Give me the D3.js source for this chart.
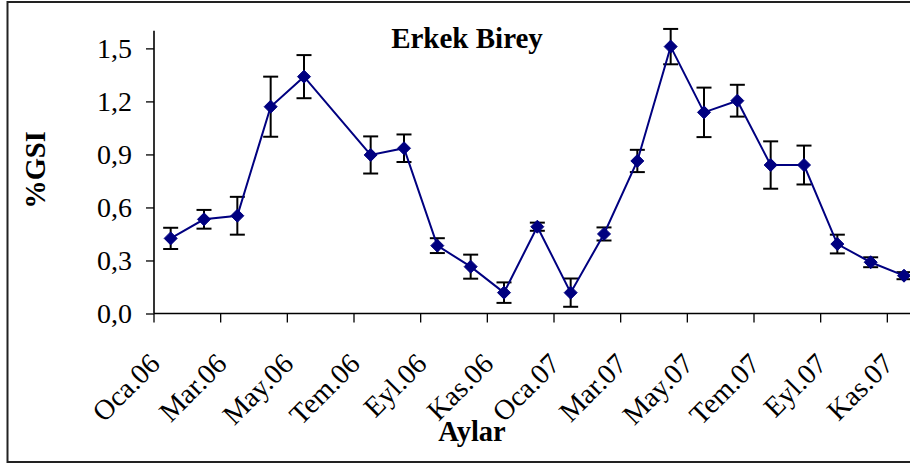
<!DOCTYPE html>
<html>
<head>
<meta charset="utf-8">
<script src="https://cdn.jsdelivr.net/npm/d3@7"></script>
<style>
  html, body { margin: 0; padding: 0; background: #fff; }
  svg { display: block; }
  text { font-family: "Liberation Serif", "Times New Roman", serif; fill: #000; }
</style>
</head>
<body>
<svg id="chart" width="910" height="465"></svg>
<script>
// ---- data ----
const months = ["Oca.06","Şub.06","Mar.06","Nis.06","May.06","Haz.06","Tem.06","Ağu.06","Eyl.06","Eki.06","Kas.06","Ara.06",
                "Oca.07","Şub.07","Mar.07","Nis.07","May.07","Haz.07","Tem.07","Ağu.07","Eyl.07","Eki.07","Kas.07","Ara.07"];
const gsi    = [0.425, 0.533, 0.553, 1.170, 1.340, null, 0.897, 0.935, 0.384, 0.265, 0.118, 0.491,
                0.118, 0.450, 0.863, 1.510, 1.138, 1.204, 0.840, 0.840, 0.393, 0.290, 0.214, null];
const gsiErr = [0.060, 0.053, 0.107, 0.170, 0.122, null, 0.105, 0.078, 0.042, 0.068, 0.058, 0.023,
                0.080, 0.037, 0.063, 0.100, 0.140, 0.090, 0.134, 0.110, 0.053, 0.028, 0.020, null];
const yTicks = [0, 0.3, 0.6, 0.9, 1.2, 1.5];
const labelMonths = ["Oca.06","Mar.06","May.06","Tem.06","Eyl.06","Kas.06","Oca.07","Mar.07","May.07","Tem.07","Eyl.07","Kas.07"];
const title = "Erkek Birey";
const xTitle = "Aylar";
const yTitle = "%GSI";

// ---- layout ----
const svg = d3.select("#chart");
const pLeft = 154, pRight = 954, pTop = 30.7, pBottom = 313.5;

const x = d3.scaleBand().domain(months).range([pLeft, pRight]).paddingInner(0).paddingOuter(0);
const xc = m => x(m) + x.bandwidth() / 2;
const y = d3.scaleLinear().domain([0, 1.6]).range([pBottom, pTop]);

// outer frame
svg.append("rect").attr("x", 7.5).attr("y", 2).attr("width", 940).attr("height", 460)
  .attr("fill", "none").attr("stroke", "#222").attr("stroke-width", 2);

// y axis
const yAxis = d3.axisLeft(y).tickValues(yTicks).tickSize(8).tickPadding(14)
  .tickFormat(d => d3.format(".1f")(d).replace(".", ","));
const gy = svg.append("g").attr("transform", `translate(${pLeft},0)`).call(yAxis);
gy.select(".domain").attr("stroke", "#000").attr("stroke-width", 1.6).attr("d", `M-0,${pTop}V${pBottom}`);
gy.selectAll(".tick line").attr("stroke", "#000").attr("stroke-width", 1.3);
gy.selectAll(".tick text").style("font-size", "28px").style("font-family", "Liberation Serif").attr("fill", "#000");

// x axis: tick marks every two months at slot boundaries
const tickIdx = d3.range(0, months.length + 1, 2);
const xb = i => pLeft + i * x.bandwidth();
const gx = svg.append("g");
gx.append("line").attr("x1", pLeft).attr("x2", 912).attr("y1", pBottom).attr("y2", pBottom)
  .attr("stroke", "#000").attr("stroke-width", 1.6);
gx.selectAll("line.tk").data(tickIdx).join("line").attr("class", "tk")
  .attr("x1", xb).attr("x2", xb).attr("y1", pBottom).attr("y2", pBottom + 9)
  .attr("stroke", "#000").attr("stroke-width", 1.3);
gx.selectAll("text.lbl").data(labelMonths).join("text").attr("class", "lbl")
  .attr("text-anchor", "end")
  .attr("transform", d => `translate(${xc(d) - 9},${pBottom + 52}) rotate(-45)`)
  .style("font-size", "28.5px")
  .text(d => d);

// data points (missing months skipped; line connects neighbours)
const pts = months.map((m, i) => ({ m, v: gsi[i], e: gsiErr[i] })).filter(d => d.v !== null);

// error bars
const eb = svg.append("g").attr("stroke", "#000").attr("stroke-width", 2);
pts.forEach(d => {
  const cx = xc(d.m);
  eb.append("line").attr("x1", cx).attr("x2", cx).attr("y1", y(d.v + d.e)).attr("y2", y(d.v - d.e));
  eb.append("line").attr("x1", cx - 7.5).attr("x2", cx + 7.5).attr("y1", y(d.v + d.e)).attr("y2", y(d.v + d.e));
  eb.append("line").attr("x1", cx - 7.5).attr("x2", cx + 7.5).attr("y1", y(d.v - d.e)).attr("y2", y(d.v - d.e));
});

// line
svg.append("path").datum(pts)
  .attr("d", d3.line().x(d => xc(d.m)).y(d => y(d.v)))
  .attr("fill", "none").attr("stroke", "#000080").attr("stroke-width", 2);

// diamond markers
svg.append("g").selectAll("path").data(pts).join("path")
  .attr("transform", d => `translate(${xc(d.m)},${y(d.v)})`)
  .attr("d", "M0,-6.5L6.5,0L0,6.5L-6.5,0Z")
  .attr("fill", "#000080").attr("stroke", "#000080").attr("stroke-width", 1);

// titles
svg.append("text").attr("x", 467).attr("y", 48).attr("text-anchor", "middle")
  .style("font-size", "29px").style("font-weight", "bold").text(title);
svg.append("text").attr("x", 472).attr("y", 441).attr("text-anchor", "middle")
  .style("font-size", "28.5px").style("font-weight", "bold").text(xTitle);
svg.append("text").attr("transform", "translate(45,170) rotate(-90)").attr("text-anchor", "middle")
  .style("font-size", "28.5px").style("font-weight", "bold").text(yTitle);
</script>
</body>
</html>
